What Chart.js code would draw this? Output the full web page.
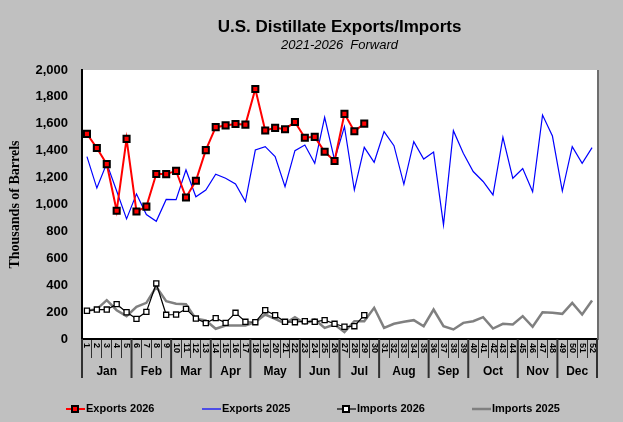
<!DOCTYPE html>
<html>
<head>
<meta charset="utf-8">
<script src="https://cdn.jsdelivr.net/npm/chart.js@4/dist/chart.umd.min.js"></script>
<style>
  html, body { margin: 0; padding: 0; background: #c0c0c0; }
  #chart { display: block; }
</style>
</head>
<body>
<canvas id="chart" width="623" height="422"></canvas>
<script>
const weekLabels = ['1','2','3','4','5','6','7','8','9','10','11','12','13','14','15','16','17','18','19','20',
  '21','22','23','24','25','26','27','28','29','30','31','32','33','34','35','36','37','38','39','40',
  '41','42','43','44','45','46','47','48','49','50','51','52'];

const monthNames = ['Jan','Feb','Mar','Apr','May','Jun','Jul','Aug','Sep','Oct','Nov','Dec'];
const monthWeeks = [5, 4, 4, 4, 5, 4, 4, 5, 4, 5, 4, 4];

const exports2026 = [1525, 1420, 1300, 953, 1488, 948, 984, 1227, 1226, 1250, 1052, 1176, 1404, 1575, 1588,
  1599, 1594, 1859, 1550, 1570, 1560, 1613, 1496, 1503, 1392, 1323, 1674, 1545, 1601];

const exports2025 = [1356, 1122, 1306, 1100, 893, 1079, 925, 875, 1038, 1036, 1257, 1058, 1108, 1225, 1195,
  1152, 1022, 1405, 1430, 1356, 1133, 1400, 1442, 1306, 1648, 1331, 1579, 1108, 1425, 1314, 1542, 1437,
  1150, 1467, 1338, 1390, 848, 1549, 1381, 1245, 1171, 1071, 1500, 1195, 1267, 1095, 1665, 1509, 1100,
  1430, 1306, 1423];

const imports2026 = [210, 219, 219, 259, 199, 150, 202, 413, 180, 182, 224, 152, 118, 155, 120, 195, 128,
  125, 214, 177, 128, 125, 132, 128, 140, 113, 91, 95, 177];

const imports2025 = [210, 222, 289, 214, 170, 239, 269, 388, 281, 262, 259, 150, 138, 76, 100, 100, 100,
  125, 182, 150, 115, 162, 115, 145, 83, 108, 51, 132, 132, 232, 83, 113, 128, 140, 95, 219, 95, 71, 120,
  132, 162, 78, 113, 108, 170, 91, 199, 195, 187, 269, 182, 286];

const yTicks = [0, 200, 400, 600, 800, 1000, 1200, 1400, 1600, 1800, 2000];

const titleText = 'U.S. Distillate Exports/Imports';
const subtitleText = '2021-2026  Forward';
const yTitle = 'Thousands of Barrels';

// background + white plot area
const backdrop = {
  id: 'backdrop',
  beforeDraw(chart) {
    const ctx = chart.ctx;
    const a = chart.chartArea;
    ctx.save();
    ctx.fillStyle = '#c0c0c0';
    ctx.fillRect(0, 0, chart.width, chart.height);
    ctx.fillStyle = '#ffffff';
    ctx.fillRect(a.left, a.top, a.right - a.left, a.bottom - a.top);
    ctx.restore();
  },
  afterDraw(chart) {
    const ctx = chart.ctx;
    const a = chart.chartArea;
    ctx.save();
    ctx.fillStyle = '#6e6e6e';
    ctx.fillRect(a.right, a.top, 2, a.bottom - a.top + 1);

    // titles centred over plot area
    const cx = (a.left + a.right) / 2;
    ctx.fillStyle = '#000';
    ctx.textAlign = 'center';
    ctx.textBaseline = 'middle';
    ctx.font = 'bold 17px "Liberation Sans", Arial, sans-serif';
    ctx.fillText(titleText, cx, 27);
    ctx.font = 'italic 13px "Liberation Sans", Arial, sans-serif';
    ctx.fillText(subtitleText, cx, 45);
    ctx.restore();
  }
};

// week numbers + month row under the x axis
const monthRow = {
  id: 'monthRow',
  afterDraw(chart) {
    const ctx = chart.ctx;
    const a = chart.chartArea;
    const x = chart.scales.x;
    const edge = k => {
      if (k <= 0) return a.left;
      if (k >= weekLabels.length) return a.right;
      return (x.getPixelForTick(k - 1) + x.getPixelForTick(k)) / 2;
    };
    ctx.save();
    ctx.fillStyle = '#000';
    ctx.font = 'bold 9px "Liberation Sans", Arial, sans-serif';
    ctx.textAlign = 'left';
    ctx.textBaseline = 'middle';
    weekLabels.forEach((lab, i) => {
      ctx.save();
      ctx.translate(x.getPixelForTick(i), a.bottom + 4);
      ctx.rotate(Math.PI / 2);
      ctx.fillText(lab, 0, 0);
      ctx.restore();
    });

    let k = 0;
    ctx.strokeStyle = '#303030';
    ctx.lineWidth = 2;
    ctx.font = 'bold 12px "Liberation Sans", Arial, sans-serif';
    ctx.textAlign = 'center';
    monthNames.forEach((m, i) => {
      const x0 = edge(k);
      const x1 = edge(k + monthWeeks[i]);
      ctx.beginPath();
      ctx.moveTo(x0, a.bottom);
      ctx.lineTo(x0, a.bottom + 39);
      ctx.stroke();
      ctx.fillText(m, (x0 + x1) / 2, a.bottom + 33);
      k += monthWeeks[i];
    });
    ctx.beginPath();
    ctx.moveTo(a.right, a.bottom);
    ctx.lineTo(a.right, a.bottom + 39);
    ctx.stroke();
    ctx.restore();
  }
};

// legend drawn by hand so markers match the original
const legendRow = {
  id: 'legendRow',
  afterDraw(chart) {
    const ctx = chart.ctx;
    const y = 409;
    const items = [
      { x: 66, text: 'Exports 2026', color: '#ff0000', width: 2, box: '#ff0000' },
      { x: 202, text: 'Exports 2025', color: '#0000ff', width: 1.2 },
      { x: 337, text: 'Imports 2026', color: '#000000', width: 1.2, box: '#ffffff' },
      { x: 472, text: 'Imports 2025', color: '#808080', width: 2.5 }
    ];
    ctx.save();
    items.forEach(it => {
      ctx.strokeStyle = it.color;
      ctx.lineWidth = it.width;
      ctx.beginPath();
      ctx.moveTo(it.x, y);
      ctx.lineTo(it.x + 19, y);
      ctx.stroke();
      if (it.box) {
        ctx.fillStyle = '#000';
        ctx.fillRect(it.x + 5, y - 4, 8, 8);
        ctx.fillStyle = it.box;
        ctx.fillRect(it.x + 7, y - 2, 4, 4);
      }
      ctx.fillStyle = '#000';
      ctx.font = 'bold 11px "Liberation Sans", Arial, sans-serif';
      ctx.textAlign = 'left';
      ctx.textBaseline = 'middle';
      ctx.fillText(it.text, it.x + 20, y);
    });
    ctx.restore();
  }
};

const ctx = document.getElementById('chart').getContext('2d');
new Chart(ctx, {
  type: 'line',
  data: {
    labels: weekLabels,
    datasets: [
      {
        label: 'Exports 2026',
        data: exports2026,
        borderColor: '#ff0000',
        borderWidth: 2,
        pointStyle: 'rect',
        pointRadius: 4.3,
        pointBorderWidth: 2,
        pointBorderColor: '#000000',
        pointBackgroundColor: '#ff0000'
      },
      {
        label: 'Exports 2025',
        data: exports2025,
        borderColor: '#0000ff',
        borderWidth: 1.2,
        pointRadius: 0
      },
      {
        label: 'Imports 2026',
        data: imports2026,
        borderColor: '#000000',
        borderWidth: 1.2,
        pointStyle: 'rect',
        pointRadius: 3.6,
        pointBorderWidth: 1.3,
        pointBorderColor: '#000000',
        pointBackgroundColor: '#ffffff'
      },
      {
        label: 'Imports 2025',
        data: imports2025,
        borderColor: '#808080',
        borderWidth: 2.5,
        pointRadius: 0
      }
    ]
  },
  options: {
    responsive: false,
    animation: false,
    devicePixelRatio: 1,
    layout: { padding: { top: 70, right: 26, bottom: 43, left: 0 } },
    plugins: {
      legend: { display: false },
      title: { display: false },
      tooltip: { enabled: false }
    },
    scales: {
      x: {
        type: 'category',
        offset: true,
        grid: {
          display: true,
          drawOnChartArea: false,
          offset: true,
          tickLength: 19,
          color: '#303030',
          lineWidth: 1
        },
        border: { display: true, color: '#000', width: 2 },
        ticks: { display: false },
        afterFit: s => { s.height = 40; }
      },
      y: {
        min: 0,
        max: 2000,
        afterBuildTicks: s => { s.ticks = yTicks.map(v => ({ value: v })); },
        grid: { display: false, drawTicks: false },
        border: { display: true, color: '#000', width: 2 },
        ticks: {
          padding: 14,
          color: '#000',
          font: { family: '"Liberation Sans", Arial, sans-serif', size: 13, weight: 'bold' },
          callback: v => v.toLocaleString('en-US')
        },
        title: {
          display: true,
          text: yTitle,
          color: '#000',
          padding: { top: 7, bottom: 0 },
          font: { family: '"Liberation Serif", "Times New Roman", serif', size: 14, weight: 'bold' }
        },
        afterFit: s => { s.width = 82; }
      }
    }
  },
  plugins: [backdrop, monthRow, legendRow]
});
</script>
</body>
</html>
